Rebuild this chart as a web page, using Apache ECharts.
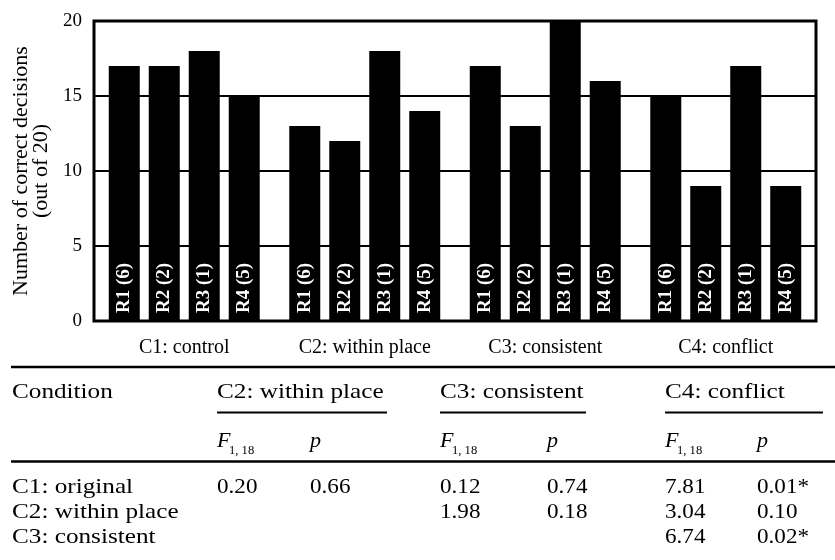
<!DOCTYPE html>
<html>
<head>
<meta charset="utf-8">
<script src="https://cdn.jsdelivr.net/npm/echarts@6/dist/echarts.min.js"></script>
<style>
  html, body { margin: 0; padding: 0; background: #fff; }
  #chart { width: 835px; height: 560px; }
</style>
</head>
<body>
<div id="chart"></div>
<script>
// ---- data ----
const categories = ['C1: control', 'C2: within place', 'C3: consistent', 'C4: conflict'];
const seriesNames = ['R1 (6)', 'R2 (2)', 'R3 (1)', 'R4 (5)'];
const r1Values = [17, 13, 17, 15];
const r2Values = [17, 12, 13, 9];
const r3Values = [18, 18, 20, 17];
const r4Values = [15, 14, 16, 9];
const yTicks = [0, 5, 10, 15, 20];
const yTitle = 'Number of correct decisions\n(out of 20)';

// comparison table
const tableHeader = 'Condition';
const compConditions = ['C2: within place', 'C3: consistent', 'C4: conflict'];
const rowConditions = ['C1: original', 'C2: within place', 'C3: consistent'];
const fValues = [
  ['0.20', '0.12', '7.81'],
  ['',     '1.98', '3.04'],
  ['',     '',     '6.74']
];
const pValues = [
  ['0.66', '0.74', '0.01*'],
  ['',     '0.18', '0.10'],
  ['',     '',     '0.02*']
];
const statLabelF = 'F';
const statLabelDf = '1, 18';
const statLabelP = 'p';

// ---- layout ----
const serif = "'Liberation Serif', 'Times New Roman', Times, serif";
const colX = [217, 440, 665];
const pColX = [310, 547, 757];
const ulineEnd = [387, 586, 823];
const rowY = [487, 512, 537];

const chart = echarts.init(document.getElementById('chart'), null, { renderer: 'canvas' });

const valueSets = [r1Values, r2Values, r3Values, r4Values];
const series = seriesNames.map((n, i) => ({
  name: n,
  type: 'bar',
  data: valueSets[i],
  barWidth: 31,
  barGap: '29%',
  itemStyle: { color: '#000' },
  label: {
    show: true,
    formatter: '{a}',
    position: 'insideBottom',
    rotate: 90,
    align: 'left',
    verticalAlign: 'middle',
    distance: 8,
    color: '#fff',
    fontFamily: serif,
    fontWeight: 'bold',
    fontSize: 19
  },
  silent: true
}));

const graphics = [];
function txt(text, x, y, opts) {
  opts = opts || {};
  graphics.push({
    type: 'text', x: x, y: y,
    scaleX: opts.sx || 1, scaleY: opts.sy || 1,
    style: {
      text: text,
      fill: '#000',
      font: (opts.style || 'normal') + ' ' + (opts.size || 21) + 'px ' + serif,
      textAlign: 'left',
      textVerticalAlign: 'middle'
    }
  });
}
function hline(x1, x2, y, w) {
  graphics.push({ type: 'line', shape: { x1: x1, y1: y, x2: x2, y2: y }, style: { stroke: '#000', lineWidth: w } });
}

// table
const wordScale = 1.2, numScale = 1.1;
hline(11, 835, 367, 2.5);
txt(tableHeader, 12, 392, { sx: wordScale });
compConditions.forEach((c, j) => {
  txt(c, colX[j], 392, { sx: wordScale });
  hline(colX[j], ulineEnd[j], 412.5, 2);
  txt(statLabelF, colX[j], 441, { style: 'italic', sx: 1.05 });
  txt(statLabelDf, colX[j] + 12, 451, { size: 12, sx: 1.05 });
  txt(statLabelP, pColX[j], 441, { style: 'italic', sx: 1.05 });
});
hline(11, 835, 461.5, 2.5);
rowConditions.forEach((r, i) => {
  txt(r, 12, rowY[i], { sx: wordScale });
  compConditions.forEach((c, j) => {
    if (fValues[i][j]) txt(fValues[i][j], colX[j], rowY[i], { sx: numScale });
    if (pValues[i][j]) txt(pValues[i][j], pColX[j], rowY[i], { sx: numScale });
  });
});

chart.setOption({
  animation: false,
  backgroundColor: '#fff',
  grid: {
    left: 94, right: 19, top: 21, bottom: 239,
    show: true, borderColor: '#000', borderWidth: 3, backgroundColor: 'transparent'
  },
  xAxis: {
    type: 'category',
    data: categories,
    axisLine: { show: false },
    axisTick: { show: false },
    axisLabel: { color: '#000', fontFamily: serif, fontSize: 20, margin: 17 }
  },
  yAxis: {
    type: 'value',
    min: yTicks[0], max: yTicks[yTicks.length - 1], interval: yTicks[1] - yTicks[0],
    name: yTitle,
    nameLocation: 'middle',
    nameRotate: 90,
    nameGap: 39,
    nameTextStyle: { color: '#000', fontFamily: serif, fontSize: 22, lineHeight: 20 },
    axisLine: { show: false },
    axisTick: { show: false },
    axisLabel: { color: '#000', fontFamily: serif, fontSize: 19, margin: 12 },
    splitLine: { show: true, lineStyle: { color: '#000', width: 2 } }
  },
  series: series,
  graphic: graphics
});
</script>
</body>
</html>
